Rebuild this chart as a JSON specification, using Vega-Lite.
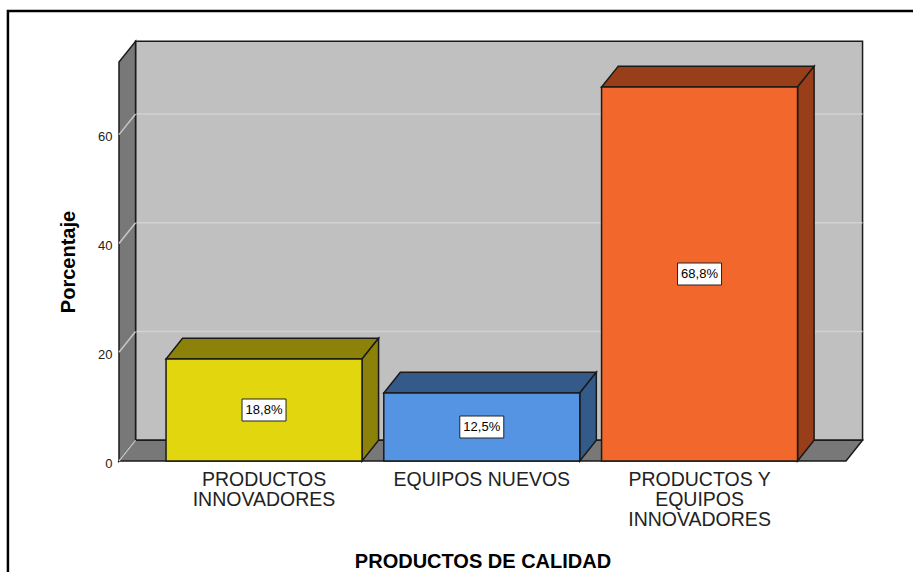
{
  "$schema": "https://vega.github.io/schema/vega-lite/v6.json",
  "width": 727,
  "height": 399,
  "autosize": {"type": "none"},
  "padding": {"left": 119, "top": 62, "right": 67, "bottom": 111},
  "background": "white",
  "config": {"view": {"stroke": null}, "font": "Liberation Sans"},
  "datasets": {
    "bars": [
      {"cat": "PRODUCTOS\nINNOVADORES", "value": 18.75, "label": "18,8%"},
      {"cat": "EQUIPOS NUEVOS", "value": 12.5, "label": "12,5%"},
      {"cat": "PRODUCTOS Y\nEQUIPOS\nINNOVADORES", "value": 68.75, "label": "68,8%"}
    ],
    "planes": [{"plane": "front"}, {"plane": "back"}],
    "ticks": [{"v": 0}, {"v": 20}, {"v": 40}, {"v": 60}]
  },
  "layer": [
    {
      "data": {"values": [{}]},
      "mark": {"type": "rect", "fill": "transparent", "stroke": "black", "strokeWidth": 2.5},
      "encoding": {
        "x": {"datum": -1.176, "type": "quantitative", "scale": {"domain": [-0.666, 2.6725], "nice": false, "zero": false},
          "axis": {"labels": false, "ticks": false, "domain": false, "grid": false, "title": "PRODUCTOS DE CALIDAD", "titleFontSize": 20, "titleFontWeight": "bold", "titleColor": "black", "titlePadding": 90, "tickSize": 0}},
        "x2": {"datum": 5},
        "y": {"datum": 82.73, "type": "quantitative", "scale": {"domain": [0, 73.35], "nice": false, "zero": false},
          "axis": {"values": [0, 20, 40, 60], "ticks": false, "tickSize": 0, "domain": false, "grid": false, "labelFontSize": 13, "labelColor": "#222", "labelPadding": 7, "labelOffset": 2, "title": "Porcentaje", "titleFontSize": 20, "titleFontWeight": "bold", "titleColor": "black", "titlePadding": 19}},
        "y2": {"datum": -40}
      }
    },
    {
      "data": {"values": [{}]},
      "mark": {"type": "rect", "fill": "#c0c0c0", "stroke": "#1a1a1a", "strokeWidth": 1.5},
      "encoding": {
        "x": {"datum": -0.59, "type": "quantitative"},
        "x2": {"datum": 2.7485},
        "y": {"datum": 3.8, "type": "quantitative"},
        "y2": {"datum": 77.15}
      }
    },
    {
      "data": {"name": "ticks"},
      "transform": [{"filter": "datum.v > 0"}, {"calculate": "datum.v + 3.8", "as": "vb"}],
      "mark": {"type": "rule", "stroke": "#d2d2d2", "strokeWidth": 1.5},
      "encoding": {
        "x": {"datum": -0.59, "type": "quantitative"},
        "x2": {"datum": 2.7485},
        "y": {"field": "vb", "type": "quantitative"}
      }
    },
    {
      "data": {"name": "planes"},
      "transform": [
        {"calculate": "datum.plane == 'back' ? 1 : 0", "as": "t"},
        {"calculate": "-0.666 + datum.t * 0.076", "as": "lx"},
        {"calculate": "datum.t * 3.8", "as": "ly"},
        {"calculate": "73.35 + datum.t * 3.8", "as": "ly2"}
      ],
      "mark": {"type": "area", "orient": "vertical", "fill": "#787878", "stroke": "#1a1a1a", "strokeWidth": 1.5},
      "encoding": {
        "x": {"field": "lx", "type": "quantitative"},
        "y": {"field": "ly", "type": "quantitative"},
        "y2": {"field": "ly2"}
      }
    },
    {
      "data": {"name": "planes"},
      "transform": [
        {"calculate": "datum.plane == 'back' ? 1 : 0", "as": "t"},
        {"calculate": "-0.666 + datum.t * 0.076", "as": "fx"},
        {"calculate": "2.6725 + datum.t * 0.076", "as": "fx2"},
        {"calculate": "datum.t * 3.8", "as": "fy"}
      ],
      "mark": {"type": "area", "orient": "horizontal", "fill": "#787878", "stroke": "#1a1a1a", "strokeWidth": 1.5},
      "encoding": {
        "y": {"field": "fy", "type": "quantitative"},
        "x": {"field": "fx", "type": "quantitative"},
        "x2": {"field": "fx2"}
      }
    },
    {
      "data": {"name": "ticks"},
      "transform": [{"calculate": "datum.v + 3.8", "as": "vb"}],
      "mark": {"type": "rule", "stroke": "#c8c8c8", "strokeWidth": 1.5},
      "encoding": {
        "x": {"datum": -0.666, "type": "quantitative"},
        "x2": {"datum": -0.59},
        "y": {"field": "v", "type": "quantitative"},
        "y2": {"field": "vb"}
      }
    },
    {
      "data": {"name": "bars"},
      "transform": [
        {"window": [{"op": "row_number", "as": "rn"}]},
        {"calculate": "datum.rn - 1", "as": "i"},
        {"calculate": "'d' + datum.i", "as": "dkey"},
        {"calculate": "[0, 1]", "as": "t"},
        {"flatten": ["t"]},
        {"calculate": "datum.value + datum.t * 3.8", "as": "ty"},
        {"calculate": "datum.i - 0.45 + datum.t * 0.076", "as": "tx"},
        {"calculate": "datum.i + 0.45 + datum.t * 0.076", "as": "tx2"}
      ],
      "mark": {"type": "area", "orient": "horizontal", "stroke": "#1a1a1a", "strokeWidth": 1.5},
      "encoding": {
        "y": {"field": "ty", "type": "quantitative"},
        "x": {"field": "tx", "type": "quantitative"},
        "x2": {"field": "tx2"},
        "detail": {"field": "i"},
        "fill": {"field": "dkey", "type": "nominal", "legend": null,
          "scale": {"domain": ["f0", "f1", "f2", "d0", "d1", "d2"], "range": ["#e2d70f", "#5594e2", "#f2682c", "#8c820a", "#345a8a", "#983f1a"]}}
      }
    },
    {
      "data": {"name": "bars"},
      "transform": [
        {"window": [{"op": "row_number", "as": "rn"}]},
        {"calculate": "datum.rn - 1", "as": "i"},
        {"calculate": "'d' + datum.i", "as": "dkey"},
        {"calculate": "[0, 1]", "as": "t"},
        {"flatten": ["t"]},
        {"calculate": "datum.i + 0.45 + datum.t * 0.076", "as": "sx"},
        {"calculate": "datum.t * 3.8", "as": "sy"},
        {"calculate": "datum.value + datum.t * 3.8", "as": "sy2"}
      ],
      "mark": {"type": "area", "orient": "vertical", "stroke": "#1a1a1a", "strokeWidth": 1.5},
      "encoding": {
        "x": {"field": "sx", "type": "quantitative"},
        "y": {"field": "sy", "type": "quantitative"},
        "y2": {"field": "sy2"},
        "detail": {"field": "i"},
        "fill": {"field": "dkey", "type": "nominal", "legend": null}
      }
    },
    {
      "data": {"name": "bars"},
      "transform": [
        {"window": [{"op": "row_number", "as": "rn"}]},
        {"calculate": "datum.rn - 1", "as": "i"},
        {"calculate": "'f' + datum.i", "as": "fkey"},
        {"calculate": "datum.i - 0.45", "as": "xa"},
        {"calculate": "datum.i + 0.45", "as": "xb"}
      ],
      "mark": {"type": "rect", "stroke": "#1a1a1a", "strokeWidth": 1.5},
      "encoding": {
        "x": {"field": "xa", "type": "quantitative"},
        "x2": {"field": "xb"},
        "y": {"field": "value", "type": "quantitative"},
        "y2": {"datum": 0},
        "fill": {"field": "fkey", "type": "nominal", "legend": null}
      }
    },
    {
      "data": {"name": "bars"},
      "transform": [
        {"window": [{"op": "row_number", "as": "rn"}]},
        {"calculate": "datum.rn - 1", "as": "i"},
        {"calculate": "datum.value / 2", "as": "mid"}
      ],
      "mark": {"type": "point", "shape": "M-1,-0.5H1V0.5H-1Z", "size": 1936, "filled": true, "fill": "white", "stroke": "#222", "strokeWidth": 1, "opacity": 1},
      "encoding": {
        "x": {"field": "i", "type": "quantitative"},
        "y": {"field": "mid", "type": "quantitative"}
      }
    },
    {
      "data": {"name": "bars"},
      "transform": [
        {"window": [{"op": "row_number", "as": "rn"}]},
        {"calculate": "datum.rn - 1", "as": "i"},
        {"calculate": "datum.value / 2", "as": "mid"}
      ],
      "mark": {"type": "text", "fontSize": 13, "color": "black", "align": "center", "baseline": "middle"},
      "encoding": {
        "x": {"field": "i", "type": "quantitative"},
        "y": {"field": "mid", "type": "quantitative"},
        "text": {"field": "label"}
      }
    },
    {
      "data": {"name": "bars"},
      "transform": [
        {"window": [{"op": "row_number", "as": "rn"}]},
        {"calculate": "datum.rn - 1", "as": "i"}
      ],
      "mark": {"type": "text", "fontSize": 19.5, "lineHeight": 20, "lineBreak": "\n", "color": "#222", "align": "center", "baseline": "top"},
      "encoding": {
        "x": {"field": "i", "type": "quantitative"},
        "y": {"datum": -1.84, "type": "quantitative"},
        "text": {"field": "cat"}
      }
    }
  ]
}
